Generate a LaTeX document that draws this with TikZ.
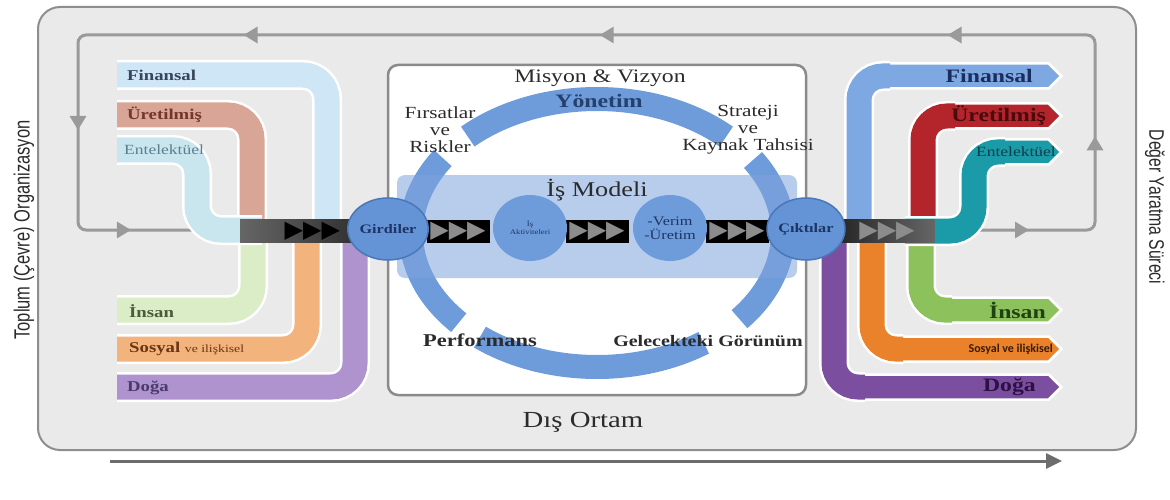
\documentclass[tikz,border=0pt]{standalone}
\usepackage{fontspec}
\setmainfont{Liberation Serif}[FakeStretch=1.25]
\setsansfont{Liberation Sans}[FakeStretch=0.75]
\newfontfamily\chevfont{DejaVu Sans}
\newfontfamily\calfont{Carlito}
\usetikzlibrary{shapes,arrows.meta,positioning,decorations.markings}
\definecolor{bggray}{HTML}{EAEAEA}
\definecolor{framegray}{HTML}{8E8E8E}
\definecolor{loopgray}{HTML}{9A9A9A}
\definecolor{boxgray}{HTML}{8A8A8A}
\definecolor{arrowgray}{HTML}{6D6D6D}
\definecolor{ringblue}{HTML}{6E9BD9}
\definecolor{bandblue}{HTML}{7FA3DD}
\definecolor{ballblue}{HTML}{6594D6}
\definecolor{ballrim}{HTML}{4A77BA}
\definecolor{navytext}{HTML}{1D3566}
\definecolor{darktext}{HTML}{2B2B2B}
\definecolor{yontext}{HTML}{24406C}
\definecolor{chevgray}{HTML}{8C8C8C}
\definecolor{inFin}{HTML}{CFE6F7}
\definecolor{inUre}{HTML}{D8A596}
\definecolor{inEnt}{HTML}{C9E5EE}
\definecolor{inIns}{HTML}{DAEDC6}
\definecolor{inSos}{HTML}{F2B37D}
\definecolor{inDog}{HTML}{AE93CE}
\definecolor{inFinT}{HTML}{38445C}
\definecolor{inUreT}{HTML}{74362A}
\definecolor{inEntT}{HTML}{5B8090}
\definecolor{inInsT}{HTML}{4A5A3A}
\definecolor{inSosT}{HTML}{6A3512}
\definecolor{inDogT}{HTML}{4A3B6A}
\definecolor{outFin}{HTML}{7EA8E1}
\definecolor{outUre}{HTML}{B4252B}
\definecolor{outEnt}{HTML}{1B9AA7}
\definecolor{outIns}{HTML}{8DC15B}
\definecolor{outSos}{HTML}{E9822B}
\definecolor{outDog}{HTML}{7B4E9F}
\definecolor{outFinT}{HTML}{1B2D5C}
\definecolor{outUreT}{HTML}{4A0A0E}
\definecolor{outEntT}{HTML}{0E3F47}
\definecolor{outInsT}{HTML}{1E4212}
\definecolor{outSosT}{HTML}{3A1A05}
\definecolor{outDogT}{HTML}{2C1244}
\begin{document}
\begin{tikzpicture}[x=1pt, y=-1pt, every node/.style={inner sep=0pt},
    rim/.style={draw=white, line width=30pt, rounded corners=24pt},
    ribbon/.style={line width=25pt, rounded corners=24pt},
    inlbl/.style={anchor=west, font=\fontsize{15}{15}\selectfont\bfseries},
    outsig/.style={signal, signal to=east, signal from=nowhere, signal pointer angle=90, draw=white, line width=2.5pt, minimum height=25pt, anchor=west},
    outlbl/.style={font=\fontsize{19}{19}\selectfont\bfseries},
    chev/.style={rectangle, fill=black, text=chevgray, minimum width=63pt, minimum height=23pt, font=\chevfont\fontsize{24}{24}\selectfont},
    bigball/.style={ellipse, fill=ballblue, draw=ballrim, line width=1.5pt, minimum width=76pt, minimum height=62pt, text=navytext, font=\fontsize{13}{13}\selectfont\bfseries},
    midball/.style={ellipse, fill=ringblue, minimum width=74pt, minimum height=66pt, text=navytext, align=center},
    arcseg/.style={draw=ringblue, line width=24pt},
    sidetxt/.style={align=center, text=darktext, font=\fontsize{17}{17}\selectfont},
    loopline/.style={draw=loopgray, line width=3pt, rounded corners=8pt, postaction={decorate},
        decoration={markings,
        mark=at position 0.05 with {\arrow{Triangle[length=14pt,width=16pt]}},
        mark=at position 0.143 with {\arrow{Triangle[length=14pt,width=16pt]}},
        mark=at position 0.289 with {\arrow{Triangle[length=14pt,width=16pt]}},
        mark=at position 0.496 with {\arrow{Triangle[length=14pt,width=16pt]}},
        mark=at position 0.708 with {\arrow{Triangle[length=14pt,width=16pt]}},
        mark=at position 0.861 with {\arrow{Triangle[length=14pt,width=16pt]}},
        mark=at position 0.95 with {\arrow{Triangle[length=14pt,width=16pt]}}}}]
    \useasboundingbox (0,0) rectangle (1170,500);
    \draw[rounded corners=22pt, fill=bggray, draw=framegray, line width=2pt] (38,7) rectangle (1136,450);
    \coordinate (lpIn) at (945,230);
    \coordinate (lpBR) at (1095,230);
    \coordinate (lpTR) at (1095,35);
    \coordinate (lpTL) at (78,35);
    \coordinate (lpBL) at (78,230);
    \coordinate (lpOut) at (215,230);
    \draw[loopline] (lpIn) -- (lpBR) -- (lpTR) -- (lpTL) -- (lpBL) -- (lpOut);
    \draw[rounded corners=10pt, fill=white, draw=boxgray, line width=2.5pt] (388,65) rectangle (806,395);
    \coordinate (ringc) at (597,233);
    \draw[arcseg] (ringc) ++(226:186 and 134) arc[start angle=226, end angle=314, x radius=186, y radius=134];
    \draw[arcseg] (ringc) ++(-33:186 and 134) arc[start angle=-33, end angle=40, x radius=186, y radius=134];
    \draw[arcseg] (ringc) ++(55:186 and 134) arc[start angle=55, end angle=129, x radius=186, y radius=134];
    \draw[arcseg] (ringc) ++(138:186 and 134) arc[start angle=138, end angle=214, x radius=186, y radius=134];
    \fill[bandblue, fill opacity=0.55, rounded corners=8pt] (397,175) rectangle (797,278);
    \draw[rim] (117,387) -- (355,387) -- (355,228);
    \draw[ribbon, inDog] (117,387) -- (355,387) -- (355,228);
    \draw[rim] (117,349) -- (307,349) -- (307,228);
    \draw[ribbon, inSos] (117,349) -- (307,349) -- (307,228);
    \draw[rim] (117,310) -- (253,310) -- (253,228);
    \draw[ribbon, inIns] (117,310) -- (253,310) -- (253,228);
    \draw[rim] (117,75) -- (327,75) -- (327,232);
    \draw[ribbon, inFin] (117,75) -- (327,75) -- (327,232);
    \draw[rim] (117,115) -- (252,115) -- (252,232);
    \draw[ribbon, inUre] (117,115) -- (252,115) -- (252,232);
    \draw[rim] (117,150) -- (197,150) -- (197,230) -- (262,230);
    \draw[ribbon, inEnt] (117,150) -- (197,150) -- (197,230) -- (262,230);
    \node[inlbl, text=inFinT] (iFin) at (127,75) {Finansal};
    \node[inlbl, text=inUreT] (iUre) at (127,115) {Üretilmiş};
    \node[inlbl, text=inEntT, font=\fontsize{14}{14}\selectfont] (iEnt) at (124,150) {Entelektüel};
    \node[inlbl, text=inInsT] (iIns) at (129,311) {İnsan};
    \node[inlbl, text=inSosT] (iSos) at (129,349) {Sosyal {\mdseries\fontsize{11}{11}\selectfont ve ilişkisel}};
    \node[inlbl, text=inDogT] (iDog) at (127,388) {Doğa};
    \draw[rim] (834,228) -- (834,387) -- (865,387);
    \node[outsig, fill=outDog, minimum width=202pt] (oDog) at (858,387) {};
    \draw[ribbon, outDog] (834,228) -- (834,387) -- (865,387);
    \node[outlbl, text=outDogT, left=27pt of oDog.east] (lDog) {Doğa};
    \draw[rim] (872,228) -- (872,349) -- (903,349);
    \node[outsig, fill=outSos, minimum width=164pt] (oSos) at (896,349) {};
    \draw[ribbon, outSos] (872,228) -- (872,349) -- (903,349);
    \node[outlbl, text=outSosT, font=\calfont\fontsize{12}{12}\selectfont\bfseries, left=10pt of oSos.east] (lSos) {Sosyal ve ilişkisel};
    \draw[rim] (921,228) -- (921,310) -- (952,310);
    \node[outsig, fill=outIns, minimum width=115pt] (oIns) at (945,310) {};
    \draw[ribbon, outIns] (921,228) -- (921,310) -- (952,310);
    \node[outlbl, text=outInsT, left=17pt of oIns.east] (lIns) {İnsan};
    \draw[rim] (859,232) -- (859,76) -- (890,76);
    \node[outsig, fill=outFin, minimum width=176pt] (oFin) at (884,76) {};
    \draw[ribbon, outFin] (859,232) -- (859,76) -- (890,76);
    \node[outlbl, text=outFinT, left=30pt of oFin.east] (lFin) {Finansal};
    \draw[rim] (923,232) -- (923,116) -- (955,116);
    \node[outsig, fill=outUre, minimum width=112pt] (oUre) at (948,116) {};
    \draw[ribbon, outUre] (923,232) -- (923,116) -- (955,116);
    \node[outlbl, text=outUreT, left=17pt of oUre.east] (lUre) {Üretilmiş};
    \draw[rim] (905,231) -- (974,231) -- (974,152) -- (1005,152);
    \node[outsig, fill=outEnt, minimum width=62pt] (oEnt) at (998,152) {};
    \draw[ribbon, outEnt] (905,231) -- (974,231) -- (974,152) -- (1005,152);
    \node[outlbl, text=outEntT, font=\fontsize{14}{14}\selectfont, left=7pt of oEnt.east] (lEnt) {Entelektüel};
    \node[rectangle, left color=gray!80!black, right color=black!80, minimum width=112pt, minimum height=23pt, text width=88pt, align=right, text=black, font=\chevfont\fontsize{24}{24}\selectfont] (bandL) at (296,231) {▶▶▶};
    \node[rectangle, left color=black!85, right color=black!60, minimum width=95pt, minimum height=23pt, text=chevgray, font=\chevfont\fontsize{24}{24}\selectfont] (bandR) at (887,231) {▶▶▶};
    \node[chev] (chv1) at (458,231) {▶▶▶};
    \node[chev] (chv2) at (597,231) {▶▶▶};
    \node[chev] (chv3) at (737,231) {▶▶▶};
    \node[bigball] (girdi) at (388,229) {Girdiler};
    \node[bigball] (cikti) at (806,229) {Çıktılar};
    \node[midball, font=\fontsize{7}{8}\selectfont] (aktiv) at (530,228) {İş\\Aktiviteleri};
    \node[midball, font=\fontsize{13}{14}\selectfont] (verim) at (670,228) {-Verim\\-Üretim};
    \node[text=darktext, font=\fontsize{19}{19}\selectfont] (misyon) at (600,78) {Misyon \& Vizyon};
    \node[text=yontext, font=\fontsize{19}{19}\selectfont\bfseries] (yonetim) at (599,101) {Yönetim};
    \node[sidetxt] (firsat) at (440,130) {Fırsatlar\\ve\\Riskler};
    \node[sidetxt] (strateji) at (748,130) {Strateji\\ve\\Kaynak Tahsisi};
    \node[text=darktext, font=\fontsize{21}{21}\selectfont] (ismodel) at (597,190) {İş Modeli};
    \node[text=darktext, font=\fontsize{18}{18}\selectfont\bfseries] (perf) at (480,340) {Performans};
    \node[text=darktext, font=\fontsize{16}{16}\selectfont\bfseries] (gelecek) at (708,341) {Gelecekteki Görünüm};
    \node[text=darktext, font=\fontsize{23}{23}\selectfont] (disortam) at (583,422) {Dış Ortam};
    \node[rotate=90, text=darktext, font=\sffamily\fontsize{22}{22}\selectfont] (toplum) at (24,230) {Toplum (Çevre) Organizasyon};
    \node[rotate=-90, text=darktext, font=\sffamily\fontsize{21}{21}\selectfont] (deger) at (1155,207) {Değer Yaratma Süreci};
    \coordinate (tStart) at (110,461);
    \coordinate (tEnd) at (1062,461);
    \draw[line width=3pt, draw=arrowgray, -{Triangle[length=16pt,width=15pt]}] (tStart) -- (tEnd);
\end{tikzpicture}
\end{document}
